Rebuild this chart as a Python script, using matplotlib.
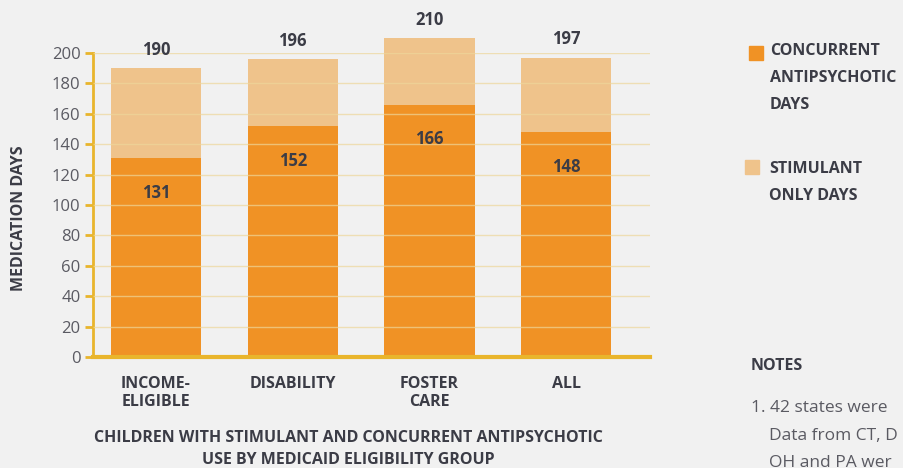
import matplotlib.pyplot as plt

# %%
## Data ##

categories = ["INCOME-\nELIGIBLE", "DISABILITY", "FOSTER\nCARE", "ALL"]
concurrent_days = [131, 152, 166, 148]
total_days = [190, 196, 210, 197]
stimulant_only_days = [t - c for t, c in zip(total_days, concurrent_days)]
y_ticks = list(range(0, 201, 20))

# %%
## Style ##

bg = "#f1f1f1"
dark_orange = "#f09225"
light_orange = "#efc38b"
gold = "#e9b52c"
grid_col = "#eed69a"
text_dark = "#3b3c46"
text_gray = "#5a5a62"

plt.rcParams["font.family"] = ["Open Sans", "DejaVu Sans"]

fig = plt.figure(figsize=(9.04, 4.68), dpi=100, facecolor=bg)
ax = fig.add_axes([0.1029, 0.2372, 0.616, 0.6496], facecolor=bg)

x = list(range(len(categories)))
bar_w = 0.66
ax.bar(x, concurrent_days, width=bar_w, color=dark_orange, zorder=2,
       clip_on=False)
ax.bar(x, stimulant_only_days, bottom=concurrent_days, width=bar_w,
       color=light_orange, zorder=2, clip_on=False)

# value labels
for xi, c, t in zip(x, concurrent_days, total_days):
    ax.annotate(str(c), (xi, c), xytext=(0, -25), textcoords="offset points",
                ha="center", va="center", fontsize=12, fontweight="bold",
                color=text_dark, zorder=4)
    ax.annotate(str(t), (xi, t), xytext=(0, 13), textcoords="offset points",
                ha="center", va="center", fontsize=12, fontweight="bold",
                color=text_dark, annotation_clip=False, zorder=4)

ax.set_xlim(-0.461, 3.613)
ax.set_ylim(0, 200)
ax.set_yticks(y_ticks)
ax.set_xticks(x)
ax.set_xticklabels(categories, fontsize=11.5, fontweight="bold", color=text_dark,
                   linespacing=1.1)
ax.tick_params(axis="x", length=0, pad=14)
ax.tick_params(axis="y", length=6, width=2, color=gold, labelsize=12,
               labelcolor=text_gray, pad=3)
ax.yaxis.grid(True, color=grid_col, linewidth=1, alpha=0.7, zorder=3)
ax.set_axisbelow(False)

for side in ["top", "right"]:
    ax.spines[side].set_visible(False)
ax.spines["left"].set_color(gold)
ax.spines["left"].set_linewidth(2)
ax.spines["bottom"].set_color(gold)
ax.spines["bottom"].set_linewidth(3)
ax.spines["bottom"].set_zorder(5)

ax.set_ylabel("MEDICATION DAYS", fontsize=11.5, fontweight="bold",
              color=text_dark)
ax.yaxis.set_label_coords(-0.118, 0.455)

fig.text(348 / 904, 1 - 449 / 468,
         "CHILDREN WITH STIMULANT AND CONCURRENT ANTIPSYCHOTIC\nUSE BY MEDICAID ELIGIBILITY GROUP",
         ha="center", va="center", fontsize=11.5, fontweight="bold",
         color=text_dark, linespacing=1.45)

# legend
fig.patches.append(plt.Rectangle((749 / 904, 1 - 60 / 468), 14 / 904, 14 / 468,
                                 transform=fig.transFigure, color=dark_orange))
fig.text(770 / 904, 1 - 43 / 468, "CONCURRENT\nANTIPSYCHOTIC\nDAYS",
         ha="left", va="top", fontsize=11.5, fontweight="bold", color=text_dark,
         linespacing=1.9)
fig.patches.append(plt.Rectangle((745 / 904, 1 - 174 / 468), 14 / 904, 14 / 468,
                                 transform=fig.transFigure, color=light_orange))
fig.text(769 / 904, 1 - 161 / 468, "STIMULANT\nONLY DAYS",
         ha="left", va="top", fontsize=11.5, fontweight="bold", color=text_dark,
         linespacing=1.9)

# notes
fig.text(751 / 904, 1 - 366 / 468, "NOTES", ha="left", va="center",
         fontsize=11.5, fontweight="bold", color=text_dark)
fig.text(751 / 904, 1 - 408 / 468, "1. 42 states were",
         ha="left", va="center", fontsize=12.5, color=text_gray)
fig.text(769 / 904, 1 - 436 / 468, "Data from CT, D",
         ha="left", va="center", fontsize=12.5, color=text_gray)
fig.text(769 / 904, 1 - 463 / 468, "OH and PA wer",
         ha="left", va="center", fontsize=12.5, color=text_gray)

fig.savefig("out.png", dpi=100, facecolor=bg)
